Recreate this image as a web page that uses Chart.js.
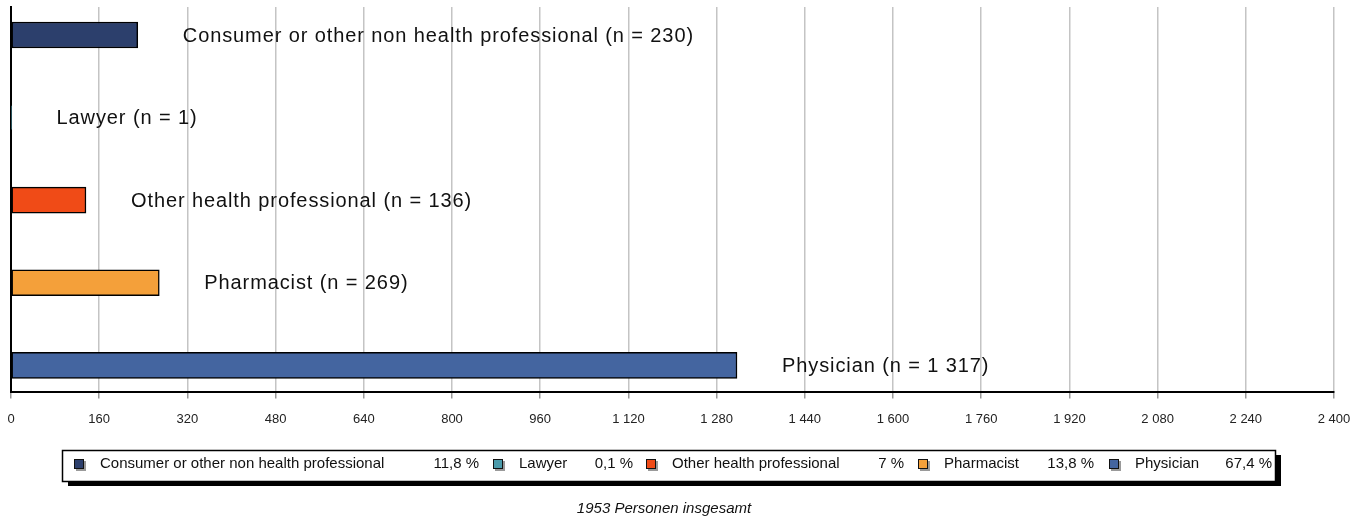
<!DOCTYPE html>
<html>
<head>
<meta charset="utf-8">
<script src="https://cdn.jsdelivr.net/npm/chart.js@4/dist/chart.umd.min.js"></script>
<style>
  html, body { margin: 0; padding: 0; background: #fff; }
  #wrap { width: 1370px; height: 519px; position: relative; }
</style>
</head>
<body>
<div id="wrap"><canvas id="c" width="1370" height="519"></canvas></div>
<script>
// ---- data ----
const categories = ['Consumer or other non health professional', 'Lawyer', 'Other health professional', 'Pharmacist', 'Physician'];
const counts = [230, 1, 136, 269, 1317];
const percentLabels = ['11,8 %', '0,1 %', '7 %', '13,8 %', '67,4 %'];
const totalPersons = 1953;
const xMin = 0, xMax = 2400, xStep = 160;

// ---- styles ----
const barColors = ['#2c3f6c', '#4b9bab', '#f04b17', '#f4a03a', '#4465a0'];
const FONT = '"Liberation Sans", Arial, sans-serif';

function fmt(v) { return String(v).replace(/\B(?=(\d{3})+(?!\d))/g, ' '); }

const barLabelPlugin = {
  id: 'barLabels',
  afterDatasetsDraw(chart) {
    const ctx = chart.ctx;
    const meta = chart.getDatasetMeta(0);
    const xs = chart.scales.x;
    ctx.save();
    ctx.font = '20px ' + FONT;
    ctx.letterSpacing = '0.9px';
    ctx.fillStyle = '#111';
    ctx.textBaseline = 'middle';
    ctx.textAlign = 'left';
    meta.data.forEach((bar, i) => {
      const x = xs.getPixelForValue(counts[i]) + 45;
      ctx.fillText(categories[i] + ' (n = ' + fmt(counts[i]) + ')', x, bar.y + 1);
    });
    ctx.restore();
  }
};

// legend layout (pixel positions of each entry)
const legendBox = { x: 62, y: 450, w: 1213, h: 31 };
const legendSquareX = [74, 493, 646, 918, 1109];
const legendPctRight = [479, 633, 904, 1094, 1272];

const legendPlugin = {
  id: 'customLegend',
  afterDraw(chart) {
    const ctx = chart.ctx;
    ctx.save();
    // shadow
    ctx.fillStyle = '#000';
    ctx.fillRect(legendBox.x + 6, legendBox.y + 5, legendBox.w, legendBox.h);
    ctx.fillStyle = '#fff';
    ctx.fillRect(legendBox.x, legendBox.y, legendBox.w, legendBox.h);
    ctx.strokeStyle = '#000';
    ctx.lineWidth = 1.5;
    ctx.strokeRect(legendBox.x + 0.5, legendBox.y + 0.5, legendBox.w, legendBox.h);
    const cy = legendBox.y + 14;
    ctx.font = '15px ' + FONT;
    ctx.textBaseline = 'middle';
    categories.forEach((cat, i) => {
      const sx = legendSquareX[i];
      ctx.fillStyle = '#9a9a9a';
      ctx.fillRect(sx + 2, cy - 3, 10, 10);
      ctx.fillStyle = barColors[i];
      ctx.fillRect(sx, cy - 5, 10, 10);
      ctx.strokeStyle = '#111';
      ctx.lineWidth = 1;
      ctx.strokeRect(sx + 0.5, cy - 4.5, 9, 9);
      ctx.fillStyle = '#111';
      ctx.textAlign = 'left';
      ctx.fillText(cat, sx + 26, cy);
      ctx.textAlign = 'right';
      ctx.fillText(percentLabels[i], legendPctRight[i], cy);
    });
    // caption
    ctx.font = 'italic 15px ' + FONT;
    ctx.textAlign = 'center';
    ctx.fillStyle = '#111';
    ctx.fillText(totalPersons + ' Personen insgesamt', 664, 509);
    ctx.restore();
  }
};

new Chart(document.getElementById('c'), {
  type: 'bar',
  data: {
    datasets: [{
      data: counts.map((v, i) => ({ x: v, y: i })),
      backgroundColor: barColors,
      borderColor: '#000',
      borderWidth: 1.5,
      borderSkipped: false,
      barThickness: 26
    }]
  },
  options: {
    indexAxis: 'y',
    responsive: false,
    devicePixelRatio: 1,
    animation: false,
    layout: { padding: { top: 7, left: 11, right: 36, bottom: 79 } },
    plugins: { legend: { display: false }, tooltip: { enabled: false } },
    scales: {
      x: {
        type: 'linear',
        position: 'bottom',
        min: xMin, max: xMax,
        ticks: {
          stepSize: xStep,
          callback: v => fmt(v),
          font: { size: 13, family: FONT },
          color: '#222',
          padding: 13,
          maxRotation: 0,
          autoSkip: false
        },
        grid: { color: '#c4c4c4', lineWidth: 1.5, tickLength: 6, tickColor: '#999' },
        border: { color: '#000', width: 2 },
        afterFit: s => { s.paddingLeft = 0; s.paddingRight = 0; }
      },
      y: {
        type: 'linear',
        reverse: true,
        offset: false,
        min: -0.339, max: 4.327,
        ticks: { display: false },
        grid: { display: false, drawTicks: false, offset: false },
        border: { color: '#000', width: 2 },
        afterFit: s => { s.width = 0; }
      }
    }
  },
  plugins: [barLabelPlugin, legendPlugin]
});
</script>
</body>
</html>
